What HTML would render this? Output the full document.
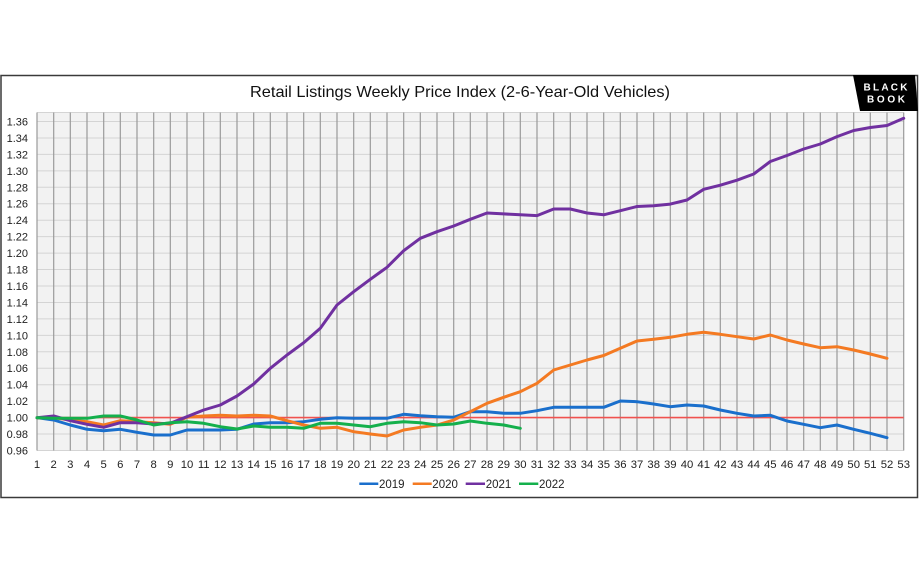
<!DOCTYPE html>
<html>
<head>
<meta charset="utf-8">
<style>
html,body{margin:0;padding:0;background:#fff;}
svg{display:block;}
text{font-family:"Liberation Sans",Arial,sans-serif;}
</style>
</head>
<body>
<svg width="920" height="575" viewBox="0 0 920 575" xmlns="http://www.w3.org/2000/svg">
<rect x="0" y="0" width="920" height="575" fill="#fff"/>
<!-- frame -->
<rect x="1" y="75.5" width="916.5" height="422" fill="#fff" stroke="#3a3a3a" stroke-width="1.5"/>
<!-- logo -->
<polygon points="853,75 915,75 918,111 860,111" fill="#000"/>
<text x="885.5" y="90.5" font-size="10" font-weight="bold" fill="#fff" text-anchor="middle" textLength="44" lengthAdjust="spacing">BLACK</text>
<text x="886" y="102.5" font-size="10" font-weight="bold" fill="#fff" text-anchor="middle" textLength="38" lengthAdjust="spacing">BOOK</text>
<!-- title -->
<text x="460" y="97" font-size="16" fill="#111" text-anchor="middle" textLength="420" lengthAdjust="spacingAndGlyphs">Retail Listings Weekly Price Index (2-6-Year-Old Vehicles)</text>
<!-- plot bg -->
<rect x="37" y="112.5" width="866.7" height="338" fill="#f2f2f2"/>
<!-- horizontal grid -->
<g stroke="#d4d4d4" stroke-width="1">
<line x1="37" x2="903.7" y1="112.5" y2="112.5"/>
<line x1="37" x2="903.7" y1="121.5" y2="121.5"/>
<line x1="37" x2="903.7" y1="137.95" y2="137.95"/>
<line x1="37" x2="903.7" y1="154.4" y2="154.4"/>
<line x1="37" x2="903.7" y1="170.85" y2="170.85"/>
<line x1="37" x2="903.7" y1="187.3" y2="187.3"/>
<line x1="37" x2="903.7" y1="203.75" y2="203.75"/>
<line x1="37" x2="903.7" y1="220.2" y2="220.2"/>
<line x1="37" x2="903.7" y1="236.65" y2="236.65"/>
<line x1="37" x2="903.7" y1="253.1" y2="253.1"/>
<line x1="37" x2="903.7" y1="269.55" y2="269.55"/>
<line x1="37" x2="903.7" y1="286" y2="286"/>
<line x1="37" x2="903.7" y1="302.45" y2="302.45"/>
<line x1="37" x2="903.7" y1="318.9" y2="318.9"/>
<line x1="37" x2="903.7" y1="335.35" y2="335.35"/>
<line x1="37" x2="903.7" y1="351.8" y2="351.8"/>
<line x1="37" x2="903.7" y1="368.25" y2="368.25"/>
<line x1="37" x2="903.7" y1="384.7" y2="384.7"/>
<line x1="37" x2="903.7" y1="401.15" y2="401.15"/>
<line x1="37" x2="903.7" y1="434.05" y2="434.05"/>
<line x1="37" x2="903.7" y1="450.5" y2="450.5"/>
</g>
<!-- vertical grid -->
<g stroke="#9a9a9a" stroke-width="1.2">
<line x1="37" x2="37" y1="112.5" y2="450.5"/>
<line x1="53.7" x2="53.7" y1="112.5" y2="450.5"/>
<line x1="70.3" x2="70.3" y1="112.5" y2="450.5"/>
<line x1="87" x2="87" y1="112.5" y2="450.5"/>
<line x1="103.7" x2="103.7" y1="112.5" y2="450.5"/>
<line x1="120.3" x2="120.3" y1="112.5" y2="450.5"/>
<line x1="137" x2="137" y1="112.5" y2="450.5"/>
<line x1="153.7" x2="153.7" y1="112.5" y2="450.5"/>
<line x1="170.3" x2="170.3" y1="112.5" y2="450.5"/>
<line x1="187" x2="187" y1="112.5" y2="450.5"/>
<line x1="203.7" x2="203.7" y1="112.5" y2="450.5"/>
<line x1="220.3" x2="220.3" y1="112.5" y2="450.5"/>
<line x1="237" x2="237" y1="112.5" y2="450.5"/>
<line x1="253.7" x2="253.7" y1="112.5" y2="450.5"/>
<line x1="270.3" x2="270.3" y1="112.5" y2="450.5"/>
<line x1="287" x2="287" y1="112.5" y2="450.5"/>
<line x1="303.7" x2="303.7" y1="112.5" y2="450.5"/>
<line x1="320.3" x2="320.3" y1="112.5" y2="450.5"/>
<line x1="337" x2="337" y1="112.5" y2="450.5"/>
<line x1="353.7" x2="353.7" y1="112.5" y2="450.5"/>
<line x1="370.3" x2="370.3" y1="112.5" y2="450.5"/>
<line x1="387" x2="387" y1="112.5" y2="450.5"/>
<line x1="403.7" x2="403.7" y1="112.5" y2="450.5"/>
<line x1="420.3" x2="420.3" y1="112.5" y2="450.5"/>
<line x1="437" x2="437" y1="112.5" y2="450.5"/>
<line x1="453.7" x2="453.7" y1="112.5" y2="450.5"/>
<line x1="470.3" x2="470.3" y1="112.5" y2="450.5"/>
<line x1="487" x2="487" y1="112.5" y2="450.5"/>
<line x1="503.7" x2="503.7" y1="112.5" y2="450.5"/>
<line x1="520.3" x2="520.3" y1="112.5" y2="450.5"/>
<line x1="537" x2="537" y1="112.5" y2="450.5"/>
<line x1="553.7" x2="553.7" y1="112.5" y2="450.5"/>
<line x1="570.3" x2="570.3" y1="112.5" y2="450.5"/>
<line x1="587" x2="587" y1="112.5" y2="450.5"/>
<line x1="603.7" x2="603.7" y1="112.5" y2="450.5"/>
<line x1="620.3" x2="620.3" y1="112.5" y2="450.5"/>
<line x1="637" x2="637" y1="112.5" y2="450.5"/>
<line x1="653.7" x2="653.7" y1="112.5" y2="450.5"/>
<line x1="670.3" x2="670.3" y1="112.5" y2="450.5"/>
<line x1="687" x2="687" y1="112.5" y2="450.5"/>
<line x1="703.7" x2="703.7" y1="112.5" y2="450.5"/>
<line x1="720.3" x2="720.3" y1="112.5" y2="450.5"/>
<line x1="737" x2="737" y1="112.5" y2="450.5"/>
<line x1="753.7" x2="753.7" y1="112.5" y2="450.5"/>
<line x1="770.3" x2="770.3" y1="112.5" y2="450.5"/>
<line x1="787" x2="787" y1="112.5" y2="450.5"/>
<line x1="803.7" x2="803.7" y1="112.5" y2="450.5"/>
<line x1="820.3" x2="820.3" y1="112.5" y2="450.5"/>
<line x1="837" x2="837" y1="112.5" y2="450.5"/>
<line x1="853.7" x2="853.7" y1="112.5" y2="450.5"/>
<line x1="870.3" x2="870.3" y1="112.5" y2="450.5"/>
<line x1="887" x2="887" y1="112.5" y2="450.5"/>
<line x1="903.7" x2="903.7" y1="112.5" y2="450.5"/>
</g>
<!-- red baseline -->
<line x1="37" x2="903.7" y1="417.6" y2="417.6" stroke="#f0524f" stroke-width="1.6"/>
<!-- y labels -->
<g font-size="11" fill="#222" text-anchor="end">
<text x="28" y="125.5">1.36</text>
<text x="28" y="141.9">1.34</text>
<text x="28" y="158.4">1.32</text>
<text x="28" y="174.8">1.30</text>
<text x="28" y="191.3">1.28</text>
<text x="28" y="207.7">1.26</text>
<text x="28" y="224.2">1.24</text>
<text x="28" y="240.6">1.22</text>
<text x="28" y="257.1">1.20</text>
<text x="28" y="273.5">1.18</text>
<text x="28" y="290">1.16</text>
<text x="28" y="306.4">1.14</text>
<text x="28" y="322.9">1.12</text>
<text x="28" y="339.3">1.10</text>
<text x="28" y="355.8">1.08</text>
<text x="28" y="372.2">1.06</text>
<text x="28" y="388.7">1.04</text>
<text x="28" y="405.1">1.02</text>
<text x="28" y="421.6">1.00</text>
<text x="28" y="438">0.98</text>
<text x="28" y="454.5">0.96</text>
</g>
<!-- x labels -->
<g font-size="11.3" fill="#222" text-anchor="middle">
<text x="37" y="468">1</text><text x="53.7" y="468">2</text><text x="70.3" y="468">3</text><text x="87" y="468">4</text><text x="103.7" y="468">5</text><text x="120.3" y="468">6</text><text x="137" y="468">7</text><text x="153.7" y="468">8</text><text x="170.3" y="468">9</text><text x="187" y="468">10</text><text x="203.7" y="468">11</text><text x="220.3" y="468">12</text><text x="237" y="468">13</text><text x="253.7" y="468">14</text><text x="270.3" y="468">15</text><text x="287" y="468">16</text><text x="303.7" y="468">17</text><text x="320.3" y="468">18</text><text x="337" y="468">19</text><text x="353.7" y="468">20</text><text x="370.3" y="468">21</text><text x="387" y="468">22</text><text x="403.7" y="468">23</text><text x="420.3" y="468">24</text><text x="437" y="468">25</text><text x="453.7" y="468">26</text><text x="470.3" y="468">27</text><text x="487" y="468">28</text><text x="503.7" y="468">29</text><text x="520.3" y="468">30</text><text x="537" y="468">31</text><text x="553.7" y="468">32</text><text x="570.3" y="468">33</text><text x="587" y="468">34</text><text x="603.7" y="468">35</text><text x="620.3" y="468">36</text><text x="637" y="468">37</text><text x="653.7" y="468">38</text><text x="670.3" y="468">39</text><text x="687" y="468">40</text><text x="703.7" y="468">41</text><text x="720.3" y="468">42</text><text x="737" y="468">43</text><text x="753.7" y="468">44</text><text x="770.3" y="468">45</text><text x="787" y="468">46</text><text x="803.7" y="468">47</text><text x="820.3" y="468">48</text><text x="837" y="468">49</text><text x="853.7" y="468">50</text><text x="870.3" y="468">51</text><text x="887" y="468">52</text><text x="903.7" y="468">53</text>
</g>
<!-- series -->
<g fill="none" stroke-width="3" stroke-linejoin="round" stroke-linecap="round">
<polyline stroke="#1a6fcc" points="37,417.7 53.7,420 70.3,425 87,429.3 103.7,430.7 120.3,429.3 137,432.3 153.7,435 170.3,435 187,430 203.7,430 220.3,430 237,429.3 253.7,424 270.3,422.7 287,422.7 303.7,421.7 320.3,419.3 337,417.7 353.7,418.3 370.3,418.3 387,418.3 403.7,414.3 420.3,415.7 437,416.7 453.7,417.3 470.3,411.7 487,411.7 503.7,413.3 520.3,413.3 537,410.7 553.7,407.3 570.3,407.3 587,407.3 603.7,407.3 620.3,401 637,401.7 653.7,404 670.3,406.7 687,405 703.7,406 720.3,410 737,413.3 753.7,416 770.3,415.3 787,421 803.7,424.3 820.3,427.7 837,425 853.7,429.3 870.3,433.3 887,437.7"/>
<polyline stroke="#f47a22" points="37,417.7 53.7,417.7 70.3,420 87,421.7 103.7,425 120.3,420.7 137,421.7 153.7,422.7 170.3,424.3 187,417.3 203.7,416 220.3,415.3 237,416 253.7,415.3 270.3,416 287,420.7 303.7,425 320.3,428.3 337,427.3 353.7,431.7 370.3,434 387,436 403.7,430 420.3,427.3 437,425 453.7,420 470.3,411.7 487,403.3 503.7,397.3 520.3,391.7 537,383.3 553.7,370 570.3,365 587,360 603.7,355.5 620.3,348.3 637,341 653.7,339.3 670.3,337.3 687,334.3 703.7,332.3 720.3,334.3 737,336.7 753.7,339 770.3,335 787,340 803.7,344 820.3,347.7 837,346.7 853.7,350 870.3,354 887,358.3"/>
<polyline stroke="#7030a0" points="37,417.7 53.7,416 70.3,420.7 87,424.3 103.7,427.3 120.3,422.7 137,422.7 153.7,424 170.3,423.3 187,416.7 203.7,410 220.3,405 237,396 253.7,384 270.3,368.3 287,355 303.7,342.7 320.3,328.3 337,305 353.7,291.7 370.3,279.3 387,267.3 403.7,250.7 420.3,238.3 437,231.7 453.7,226 470.3,219.3 487,213 503.7,213.9 520.3,214.8 537,215.6 553.7,209 570.3,209 587,213 603.7,214.8 620.3,210.7 637,206.5 653.7,205.7 670.3,204.1 687,200 703.7,189.3 720.3,185.2 737,180.2 753.7,174 770.3,161.5 787,155.5 803.7,149 820.3,144 837,136.6 853.7,130.5 870.3,127.5 887,125.5 903.7,118.3"/>
<polyline stroke="#14b04c" points="37,417.7 53.7,418.3 70.3,418.3 87,418.3 103.7,416 120.3,416 137,420 153.7,425 170.3,422.7 187,421.7 203.7,423.3 220.3,426.7 237,429 253.7,426 270.3,427.3 287,427.3 303.7,428.3 320.3,423.3 337,423.3 353.7,425 370.3,426.7 387,423.3 403.7,421.7 420.3,422.7 437,425 453.7,424 470.3,421 487,423.3 503.7,425 520.3,428.3"/>
</g>
<!-- legend -->
<g stroke-width="2.5">
<line x1="359.3" x2="378.3" y1="483.7" y2="483.7" stroke="#1a6fcc"/>
<line x1="412.7" x2="431.7" y1="483.7" y2="483.7" stroke="#f47a22"/>
<line x1="465.7" x2="485" y1="483.7" y2="483.7" stroke="#7030a0"/>
<line x1="519" x2="538.3" y1="483.7" y2="483.7" stroke="#14b04c"/>
</g>
<g font-size="11.5" fill="#222">
<text x="379" y="488">2019</text>
<text x="432.3" y="488">2020</text>
<text x="485.7" y="488">2021</text>
<text x="539" y="488">2022</text>
</g>
</svg>
</body>
</html>
